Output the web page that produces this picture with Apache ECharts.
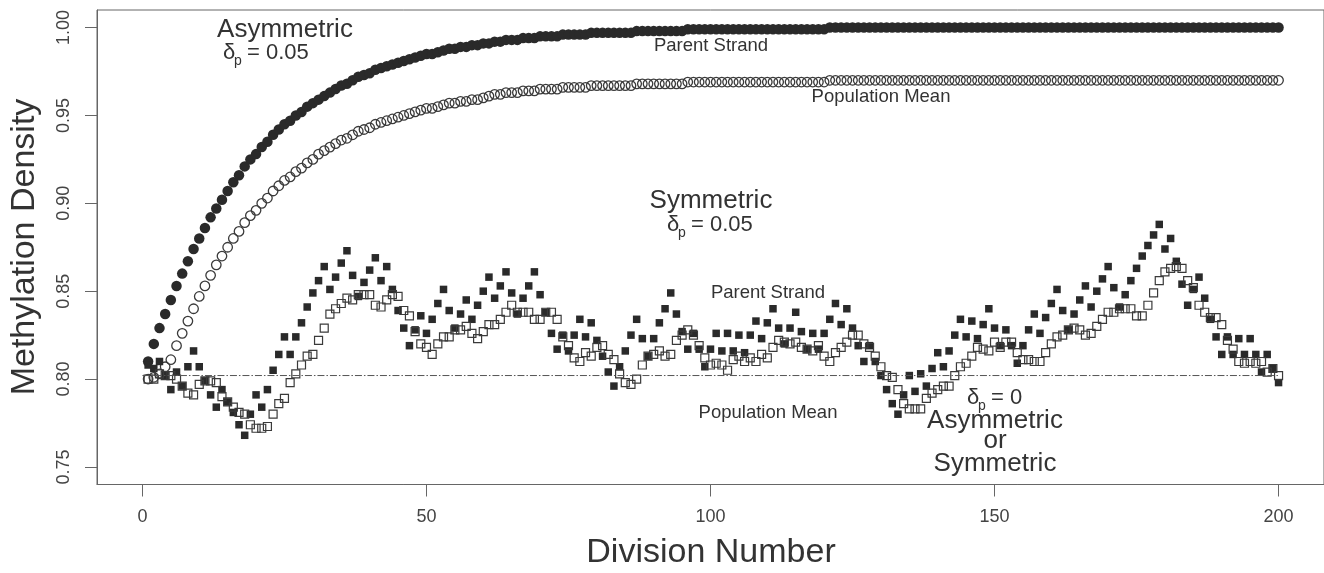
<!DOCTYPE html>
<html>
<head>
<meta charset="utf-8">
<script src="https://cdn.jsdelivr.net/npm/echarts@6/dist/echarts.min.js"></script>
<style>
html, body { margin: 0; padding: 0; background: #fff; }
#chart { width: 1324px; height: 573px; }
</style>
</head>
<body>
<div id="chart"></div>
<script>
// division numbers 1..200 (x positions of every series)
var divisions = [];
for (var k = 1; k <= 200; k++) divisions.push(k);

// asymmetric, delta_p = 0.05 : parent strand (filled circles)
var asymParent = [
  0.810,0.820,0.829,0.837,0.845,0.853,0.860,0.867,0.874,0.880,
  0.886,0.892,0.897,0.902,0.907,0.912,0.916,0.921,0.925,0.928,
  0.932,0.935,0.939,0.942,0.945,0.947,0.950,0.952,0.955,0.957,
  0.959,0.961,0.963,0.965,0.967,0.968,0.970,0.972,0.973,0.974,
  0.976,0.977,0.978,0.979,0.980,0.981,0.982,0.983,0.984,0.985,
  0.985,0.986,0.987,0.988,0.988,0.989,0.989,0.990,0.990,0.991,
  0.991,0.992,0.992,0.993,0.993,0.993,0.994,0.994,0.994,0.995,
  0.995,0.995,0.995,0.996,0.996,0.996,0.996,0.996,0.997,0.997,
  0.997,0.997,0.997,0.997,0.997,0.997,0.998,0.998,0.998,0.998,
  0.998,0.998,0.998,0.998,0.998,0.999,0.999,0.999,0.999,0.999,
  0.999,0.999,0.999,0.999,0.999,0.999,0.999,0.999,0.999,0.999,
  0.999,0.999,0.999,0.999,0.999,0.999,0.999,0.999,0.999,0.999,
  1.000,1.000,1.000,1.000,1.000,1.000,1.000,1.000,1.000,1.000,
  1.000,1.000,1.000,1.000,1.000,1.000,1.000,1.000,1.000,1.000,
  1.000,1.000,1.000,1.000,1.000,1.000,1.000,1.000,1.000,1.000,
  1.000,1.000,1.000,1.000,1.000,1.000,1.000,1.000,1.000,1.000,
  1.000,1.000,1.000,1.000,1.000,1.000,1.000,1.000,1.000,1.000,
  1.000,1.000,1.000,1.000,1.000,1.000,1.000,1.000,1.000,1.000,
  1.000,1.000,1.000,1.000,1.000,1.000,1.000,1.000,1.000,1.000,
  1.000,1.000,1.000,1.000,1.000,1.000,1.000,1.000,1.000,1.000
];

// asymmetric, delta_p = 0.05 : population mean (open circles)
var asymMean = [
  0.800,0.801,0.803,0.807,0.811,0.819,0.826,0.833,0.840,0.847,
  0.853,0.859,0.865,0.870,0.875,0.880,0.884,0.889,0.893,0.896,
  0.900,0.903,0.907,0.910,0.913,0.915,0.918,0.920,0.923,0.925,
  0.928,0.930,0.932,0.934,0.936,0.937,0.939,0.941,0.942,0.943,
  0.945,0.946,0.947,0.948,0.949,0.950,0.951,0.952,0.953,0.954,
  0.954,0.955,0.956,0.957,0.957,0.958,0.958,0.959,0.959,0.960,
  0.961,0.962,0.962,0.963,0.963,0.963,0.964,0.964,0.964,0.965,
  0.965,0.965,0.965,0.966,0.966,0.966,0.966,0.966,0.967,0.967,
  0.967,0.967,0.967,0.967,0.967,0.967,0.968,0.968,0.968,0.968,
  0.968,0.968,0.968,0.968,0.968,0.969,0.969,0.969,0.969,0.969,
  0.969,0.969,0.969,0.969,0.969,0.969,0.969,0.969,0.969,0.969,
  0.969,0.969,0.969,0.969,0.969,0.969,0.969,0.969,0.969,0.969,
  0.970,0.970,0.970,0.970,0.970,0.970,0.970,0.970,0.970,0.970,
  0.970,0.970,0.970,0.970,0.970,0.970,0.970,0.970,0.970,0.970,
  0.970,0.970,0.970,0.970,0.970,0.970,0.970,0.970,0.970,0.970,
  0.970,0.970,0.970,0.970,0.970,0.970,0.970,0.970,0.970,0.970,
  0.970,0.970,0.970,0.970,0.970,0.970,0.970,0.970,0.970,0.970,
  0.970,0.970,0.970,0.970,0.970,0.970,0.970,0.970,0.970,0.970,
  0.970,0.970,0.970,0.970,0.970,0.970,0.970,0.970,0.970,0.970,
  0.970,0.970,0.970,0.970,0.970,0.970,0.970,0.970,0.970,0.970
];

// symmetric, delta_p = 0.05 : parent strand (filled squares)
var symParent = [
  0.808,0.806,0.810,0.802,0.794,0.804,0.796,0.807,0.816,0.807,
  0.799,0.791,0.784,0.794,0.787,0.781,0.774,0.768,0.780,0.791,
  0.784,0.794,0.805,0.814,0.824,0.814,0.824,0.832,0.841,0.849,
  0.856,0.864,0.851,0.858,0.866,0.873,0.859,0.847,0.855,0.862,
  0.869,0.856,0.864,0.851,0.839,0.829,0.819,0.828,0.836,0.826,
  0.834,0.843,0.851,0.839,0.829,0.837,0.845,0.834,0.842,0.850,
  0.858,0.846,0.853,0.861,0.849,0.837,0.846,0.853,0.861,0.848,
  0.838,0.826,0.817,0.825,0.816,0.825,0.834,0.824,0.832,0.822,
  0.813,0.804,0.796,0.807,0.816,0.825,0.834,0.823,0.813,0.823,
  0.832,0.840,0.849,0.837,0.827,0.817,0.826,0.817,0.807,0.817,
  0.826,0.816,0.826,0.816,0.825,0.815,0.825,0.833,0.823,0.832,
  0.840,0.829,0.820,0.829,0.838,0.827,0.817,0.826,0.817,0.826,
  0.834,0.843,0.831,0.840,0.829,0.819,0.810,0.819,0.810,0.802,
  0.794,0.786,0.780,0.791,0.802,0.793,0.803,0.796,0.806,0.815,
  0.807,0.816,0.825,0.834,0.824,0.833,0.823,0.831,0.840,0.829,
  0.819,0.828,0.819,0.809,0.819,0.828,0.837,0.826,0.835,0.843,
  0.851,0.839,0.828,0.837,0.845,0.853,0.841,0.850,0.857,0.864,
  0.852,0.841,0.848,0.856,0.863,0.870,0.876,0.882,0.888,0.874,
  0.880,0.867,0.854,0.842,0.851,0.858,0.846,0.834,0.824,0.814,
  0.824,0.814,0.823,0.814,0.823,0.814,0.804,0.814,0.806,0.798
];

// symmetric, delta_p = 0.05 : population mean (open squares)
var symMean = [
  0.800,0.800,0.803,0.802,0.802,0.800,0.796,0.792,0.791,0.797,
  0.799,0.799,0.798,0.790,0.787,0.784,0.781,0.780,0.774,0.772,
  0.772,0.773,0.780,0.786,0.789,0.798,0.803,0.808,0.813,0.814,
  0.822,0.829,0.837,0.840,0.843,0.846,0.845,0.848,0.848,0.848,
  0.842,0.841,0.845,0.848,0.847,0.839,0.836,0.827,0.820,0.818,
  0.814,0.820,0.824,0.824,0.828,0.828,0.830,0.826,0.823,0.827,
  0.831,0.831,0.834,0.838,0.842,0.838,0.838,0.838,0.834,0.834,
  0.838,0.838,0.834,0.824,0.819,0.812,0.810,0.815,0.813,0.818,
  0.819,0.814,0.811,0.803,0.798,0.797,0.800,0.808,0.813,0.814,
  0.816,0.813,0.814,0.822,0.825,0.828,0.825,0.819,0.812,0.808,
  0.809,0.808,0.805,0.811,0.813,0.810,0.812,0.810,0.814,0.812,
  0.818,0.822,0.821,0.820,0.821,0.818,0.817,0.816,0.819,0.813,
  0.810,0.815,0.818,0.821,0.825,0.825,0.820,0.818,0.813,0.807,
  0.802,0.801,0.794,0.786,0.783,0.783,0.783,0.789,0.792,0.794,
  0.796,0.796,0.802,0.807,0.809,0.813,0.818,0.817,0.816,0.821,
  0.818,0.821,0.821,0.815,0.811,0.811,0.810,0.810,0.815,0.820,
  0.824,0.825,0.828,0.829,0.828,0.825,0.826,0.830,0.834,0.838,
  0.838,0.840,0.840,0.840,0.836,0.836,0.842,0.849,0.856,0.861,
  0.863,0.864,0.863,0.856,0.852,0.842,0.838,0.835,0.835,0.831,
  0.822,0.817,0.810,0.809,0.810,0.809,0.810,0.804,0.806,0.802
];

// delta_p = 0 : population mean stays flat (dash-dot line)
var flatX = [0, 200];
var flatY = [0.802, 0.802];

var xTicks = [0, 50, 100, 150, 200];
var yTicks = [0.75, 0.80, 0.85, 0.90, 0.95, 1.00];

function pairs(xs, ys) {
  return xs.map(function (x, i) { return [x, ys[i]]; });
}

var FONT = "'Liberation Sans', Arial, Helvetica, sans-serif";
var INK = '#333';

function txt(x, y, s, size, extra) {
  var el = {
    type: 'text', x: x, y: y, silent: true,
    style: { text: s, fill: INK, font: size + 'px ' + FONT, align: 'center', verticalAlign: 'middle' }
  };
  if (extra) for (var key in extra) el[key] = extra[key];
  return el;
}

// delta with subscript p, then "= value"
function deltaLabel(x, y, val) {
  return [
    { type: 'text', x: x, y: y, silent: true,
      style: { text: 'δ', fill: INK, font: '22px ' + FONT, align: 'left', verticalAlign: 'middle' } },
    { type: 'text', x: x + 11, y: y + 8, silent: true,
      style: { text: 'p', fill: INK, font: '14px ' + FONT, align: 'left', verticalAlign: 'middle' } },
    { type: 'text', x: x + 24, y: y, silent: true,
      style: { text: '= ' + val, fill: INK, font: '22px ' + FONT, align: 'left', verticalAlign: 'middle' } }
  ];
}

var graphics = [
  txt(285, 30, 'Asymmetric', 26),
  txt(711, 46, 'Parent Strand', 18.5),
  txt(881, 97, 'Population Mean', 18.5),
  txt(711, 201, 'Symmetric', 26),
  txt(768, 293, 'Parent Strand', 18.5),
  txt(768, 413, 'Population Mean', 18.5),
  txt(995, 421, 'Asymmetric', 26),
  txt(995, 441, 'or', 26),
  txt(995, 464, 'Symmetric', 26),
  txt(711, 553, 'Division Number', 34),
  txt(25, 247, 'Methylation Density', 34, { rotation: Math.PI / 2 })
].concat(deltaLabel(223, 53, '0.05'))
 .concat(deltaLabel(667, 225, '0.05'))
 .concat(deltaLabel(967, 398, '0'));

var myChart = echarts.init(document.getElementById('chart'));
var option = {
  animation: false,
  backgroundColor: '#fff',
  grid: {
    left: 97, right: -1, top: 10, bottom: 88.5,
    show: true, borderColor: '#666', borderWidth: 1
  },
  xAxis: {
    type: 'value', min: -8, max: 208,
    axisLine: { show: true, onZero: false, lineStyle: { color: '#666' } },
    axisTick: { show: true, length: 12, customValues: xTicks, lineStyle: { color: '#666' } },
    axisLabel: {
      customValues: xTicks, margin: 24, color: '#444',
      fontSize: 18, fontFamily: FONT
    },
    splitLine: { show: false }
  },
  yAxis: {
    type: 'value', min: 0.74, max: 1.01,
    axisLine: { show: true, onZero: false, lineStyle: { color: '#666' } },
    axisTick: { show: true, length: 12, customValues: yTicks, lineStyle: { color: '#666' } },
    axisLabel: {
      customValues: yTicks, margin: 24, rotate: 90, color: '#444',
      fontSize: 18, fontFamily: FONT,
      formatter: function (v) { return v.toFixed(2); }
    },
    splitLine: { show: false }
  },
  graphic: graphics,
  series: [
    {
      name: 'Asymmetric parent', type: 'scatter', symbol: 'circle', symbolSize: 10.5,
      itemStyle: { color: '#2a2a2a', opacity: 1 },
      data: pairs(divisions, asymParent)
    },
    {
      name: 'Asymmetric mean', type: 'scatter', symbol: 'circle', symbolSize: 9.5,
      itemStyle: { color: 'rgba(0,0,0,0)', borderColor: '#3a3a3a', borderWidth: 1.3, opacity: 1 },
      data: pairs(divisions, asymMean)
    },
    {
      name: 'No bias mean', type: 'line', symbol: 'none',
      lineStyle: { color: '#555', width: 1, type: [7, 2, 1.5, 2] },
      data: pairs(flatX, flatY)
    },
    {
      name: 'Symmetric parent', type: 'scatter', symbol: 'rect', symbolSize: 7.5,
      itemStyle: { color: '#2a2a2a', opacity: 1 },
      data: pairs(divisions, symParent)
    },
    {
      name: 'Symmetric mean', type: 'scatter', symbol: 'rect', symbolSize: 8,
      itemStyle: { color: 'rgba(0,0,0,0)', borderColor: '#3a3a3a', borderWidth: 1.2, opacity: 1 },
      data: pairs(divisions, symMean)
    }
  ]
};
myChart.setOption(option);
</script>
</body>
</html>
